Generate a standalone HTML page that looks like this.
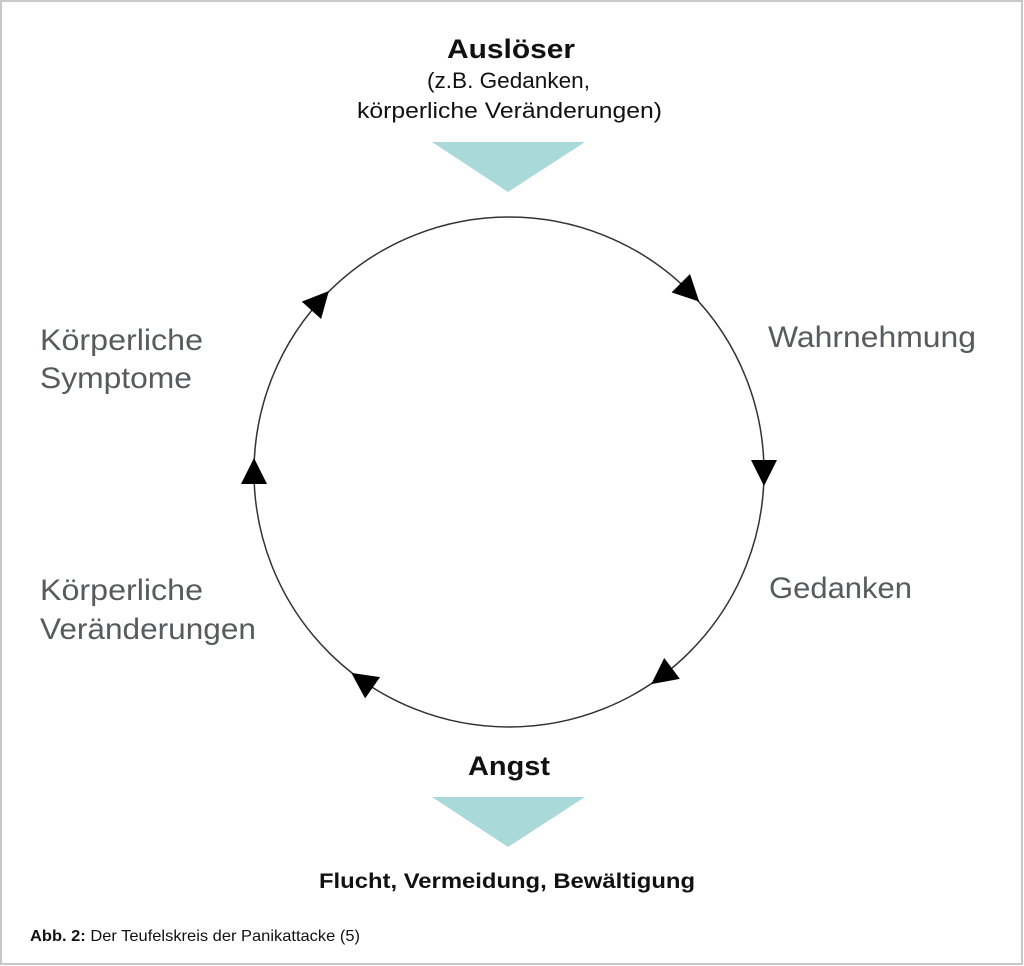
<!DOCTYPE html>
<html><head><meta charset="utf-8"><style>
html,body{margin:0;padding:0;background:#fff;}
body{width:1024px;height:966px;overflow:hidden;}
</style></head><body>
<svg width="1024" height="966" viewBox="0 0 1024 966" xmlns="http://www.w3.org/2000/svg" style="display:block">
<rect x="1" y="1" width="1021" height="963" fill="#fff" stroke="#c8c8c8" stroke-width="2"/>
<circle cx="509" cy="472" r="255" fill="none" stroke="#333" stroke-width="1.5"/>
<g fill="#000">
<g transform="translate(509,472) rotate(-45) translate(255,0) rotate(90)"><polygon points="14,0 -12,-13 -12,13"/></g>
<g transform="translate(509,472) rotate(0) translate(255,0) rotate(90)"><polygon points="14,0 -12,-13 -12,13"/></g>
<g transform="translate(509,472) rotate(53) translate(255,0) rotate(90)"><polygon points="14,0 -12,-13 -12,13"/></g>
<g transform="translate(509,472) rotate(125) translate(255,0) rotate(90)"><polygon points="14,0 -12,-13 -12,13"/></g>
<g transform="translate(509,472) rotate(180) translate(255,0) rotate(90)"><polygon points="14,0 -12,-13 -12,13"/></g>
<g transform="translate(509,472) rotate(222) translate(255,0) rotate(90)"><polygon points="14,0 -12,-13 -12,13"/></g>
</g>
<polygon points="432,142 585,142 508,192" fill="#a9dad9"/>
<polygon points="432,797 585,797 508,847" fill="#a9dad9"/>
<g font-family="Liberation Sans, sans-serif" fill="#111" lengthAdjust="spacingAndGlyphs">
<text x="447" y="58" font-size="27" font-weight="bold" textLength="128" lengthAdjust="spacingAndGlyphs">Auslöser</text>
<text x="427" y="88" font-size="22" textLength="163" lengthAdjust="spacingAndGlyphs">(z.B. Gedanken,</text>
<text x="357" y="118" font-size="22" textLength="305" lengthAdjust="spacingAndGlyphs">körperliche Veränderungen)</text>
<text x="468" y="775" font-size="27" font-weight="bold" textLength="82" lengthAdjust="spacingAndGlyphs">Angst</text>
<text x="319" y="888" font-size="21" font-weight="bold" textLength="376" lengthAdjust="spacingAndGlyphs">Flucht, Vermeidung, Bewältigung</text>
</g>
<g font-family="Liberation Sans, sans-serif" font-size="30" fill="#575b5e">
<text x="768" y="347" textLength="208" lengthAdjust="spacingAndGlyphs">Wahrnehmung</text>
<text x="769" y="598" textLength="143" lengthAdjust="spacingAndGlyphs">Gedanken</text>
<text x="40" y="350" textLength="163" lengthAdjust="spacingAndGlyphs">Körperliche</text>
<text x="40" y="388" textLength="152" lengthAdjust="spacingAndGlyphs">Symptome</text>
<text x="40" y="600" textLength="163" lengthAdjust="spacingAndGlyphs">Körperliche</text>
<text x="40" y="639" textLength="216" lengthAdjust="spacingAndGlyphs">Veränderungen</text>
</g>
<text x="30" y="941" font-family="Liberation Sans, sans-serif" font-size="16" fill="#111" textLength="330" lengthAdjust="spacingAndGlyphs"><tspan font-weight="bold">Abb. 2:</tspan> Der Teufelskreis der Panikattacke (5)</text>
</svg>
</body></html>
